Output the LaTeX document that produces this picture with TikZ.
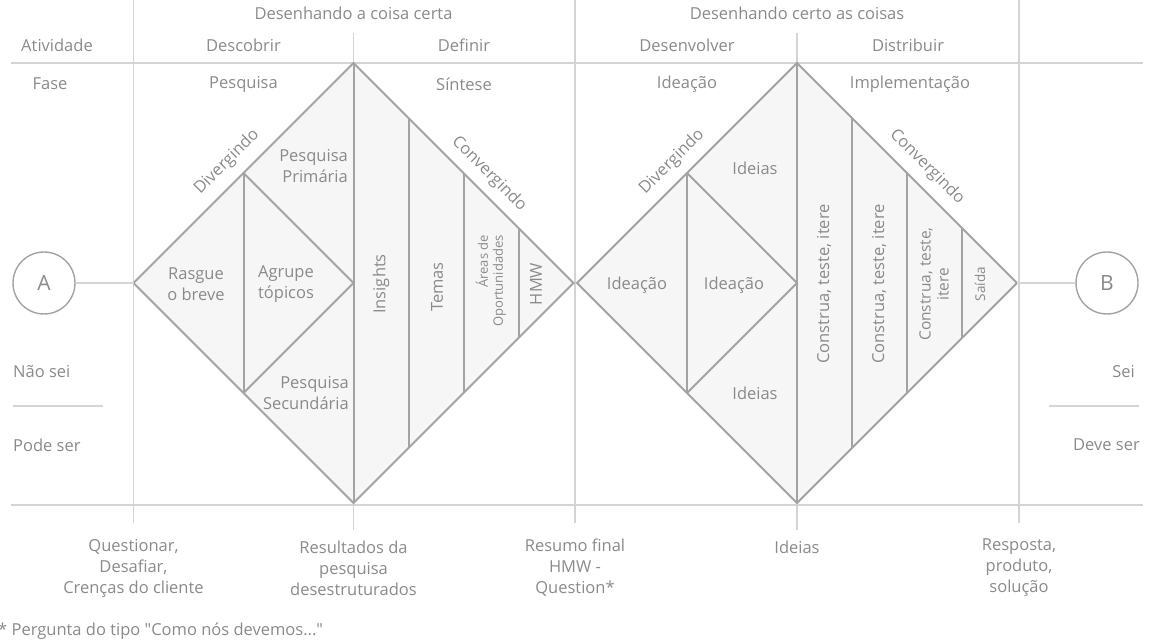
\documentclass[tikz,border=0pt]{standalone}
\usepackage{fontspec}
\setmainfont{Open Sans}
\definecolor{txt}{HTML}{8A8A8A}
\definecolor{gridc}{HTML}{D4D4D4}
\definecolor{edgec}{HTML}{A3A3A3}
\definecolor{fillc}{HTML}{F6F6F6}
\begin{document}
\begin{tikzpicture}[x=1pt,y=-1pt,
  lbl/.style={text=txt,font=\fontsize{16.5}{21}\selectfont,inner sep=0pt,align=center},
  vlbl/.style={lbl,rotate=90},
  small/.style={font=\fontsize{13}{15}\selectfont},
  gridline/.style={draw=gridc,line width=1.3pt},
  dia/.style={draw=edgec,fill=fillc,line width=2pt,line join=miter},
  seg/.style={draw=edgec,line width=2pt},
  circ/.style={circle,draw=edgec,line width=1.4pt,minimum size=62pt,inner sep=0pt,text=txt,font=\fontsize{21}{24}\selectfont},
  conn/.style={draw=gridc,line width=1.3pt}
]
\useasboundingbox (0,0) rectangle (1159,644);

% grid
\draw[gridline] (11,63) -- (1143,63);
\draw[gridline] (11,505) -- (1143,505);
\draw[gridline] (133.5,0) -- (133.5,523);
\draw[gridline] (353.5,33) -- (353.5,530);
\draw[gridline] (575,0) -- (575,523);
\draw[gridline] (797,33) -- (797,530);
\draw[gridline] (1019,0) -- (1019,523);
\draw[gridline] (13,406) -- (103,406);
\draw[gridline] (1049,406) -- (1139,406);

% diamond 1
\coordinate (d1L) at (133.5,283);
\coordinate (d1T) at (353.5,63);
\coordinate (d1R) at (573.5,283);
\coordinate (d1B) at (353.5,503);
\filldraw[dia] (d1L) -- (d1T) -- (d1R) -- (d1B) -- cycle;
\draw[seg] (243.5,173) -- (353.5,283) -- (243.5,393);
\draw[seg] (243.5,173) -- (243.5,393);
\draw[seg] (d1T) -- (d1B);
\draw[seg] (408.5,118) -- (408.5,448);
\draw[seg] (463.5,173) -- (463.5,393);
\draw[seg] (518.5,228) -- (518.5,338);

% diamond 2
\coordinate (d2L) at (577,283);
\coordinate (d2T) at (797,63);
\coordinate (d2R) at (1017,283);
\coordinate (d2B) at (797,503);
\filldraw[dia] (d2L) -- (d2T) -- (d2R) -- (d2B) -- cycle;
\draw[seg] (687,173) -- (797,283) -- (687,393);
\draw[seg] (687,173) -- (687,393);
\draw[seg] (d2T) -- (d2B);
\draw[seg] (852,118) -- (852,448);
\draw[seg] (907,173) -- (907,393);
\draw[seg] (962,228) -- (962,338);

% circles
\node[circ] (A) at (44,283) {A};
\node[circ] (B) at (1107,283) {B};
\draw[conn] (A) -- (d1L);
\draw[conn] (d2R) -- (B);

% header texts
\node[lbl] (h1) at (353.5,13) {Desenhando a coisa certa};
\node[lbl] (h2) at (797,13) {Desenhando certo as coisas};
\node[lbl] (act) at (57,45) {Atividade};
\node[lbl] (c1) at (243.5,45) {Descobrir};
\node[lbl] (c2) at (464,45) {Definir};
\node[lbl] (c3) at (687,45) {Desenvolver};
\node[lbl] (c4) at (908,45) {Distribuir};
\node[lbl] (fase) at (50,84) {Fase};
\node[lbl] (p1) at (243.5,84) {Pesquisa};
\node[lbl] (p2) at (464,84) {Síntese};
\node[lbl] (p3) at (687,84) {Ideação};
\node[lbl] (p4) at (910,84) {Implementação};

% side texts
\node[lbl,anchor=west] (nsei) at (13,372) {Não sei};
\node[lbl,anchor=west] (pode) at (13,445) {Pode ser};
\node[lbl,anchor=east] (sei) at (1135,372) {Sei};
\node[lbl,anchor=east] (deve) at (1140,445) {Deve ser};

% diamond 1 labels
\node[lbl,rotate=45] (div1) at (227,162) {Divergindo};
\node[lbl,rotate=-45] (conv1) at (489,174) {Convergindo};
\node[lbl,align=right,anchor=east] (pp) at (348,166) {Pesquisa\\Primária};
\node[lbl,align=right,anchor=east] (ps) at (349,393) {Pesquisa\\Secundária};
\node[lbl] (rb) at (196,284) {Rasgue\\o breve};
\node[lbl] (at) at (286,284) {Agrupe\\tópicos};
\node[vlbl] (ins) at (381,284) {Insights};
\node[vlbl] (tem) at (437,287) {Temas};
\node[vlbl,small,align=right] (aop) at (491,281) {Áreas de\\Oportunidades};
\node[vlbl] (hmw) at (536,284) {HMW};

% diamond 2 labels
\node[lbl,rotate=45] (div2) at (672,162) {Divergindo};
\node[lbl,rotate=-45] (conv2) at (927,167) {Convergindo};
\node[lbl] (id1) at (755,168) {Ideias};
\node[lbl] (ia1) at (637,285) {Ideação};
\node[lbl] (ia2) at (734,285) {Ideação};
\node[lbl] (id2) at (755,393) {Ideias};
\node[vlbl] (ct1) at (824,284) {Construa, teste, itere};
\node[vlbl] (ct2) at (879,284) {Construa, teste, itere};
\node[vlbl,font=\fontsize{15.5}{18}\selectfont] (ct3) at (934,284) {Construa, teste,\\itere};
\node[vlbl,font=\fontsize{13.5}{16}\selectfont] (sai) at (980,284) {Saída};

% bottom texts
\node[lbl] (b1) at (133.5,568) {Questionar,\\Desafiar,\\Crenças do cliente};
\node[lbl] (b2) at (353.5,568) {Resultados da\\pesquisa\\desestruturados};
\node[lbl] (b3) at (575,568) {Resumo final\\HMW -\\Question*};
\node[lbl] (b4) at (797,547) {Ideias};
\node[lbl] (b5) at (1019,568) {Resposta,\\produto,\\solução};

\node[lbl,anchor=west] (fn) at (-2,631) {* Pergunta do tipo \textquotedbl Como nós devemos...\textquotedbl};
\end{tikzpicture}
\end{document}
